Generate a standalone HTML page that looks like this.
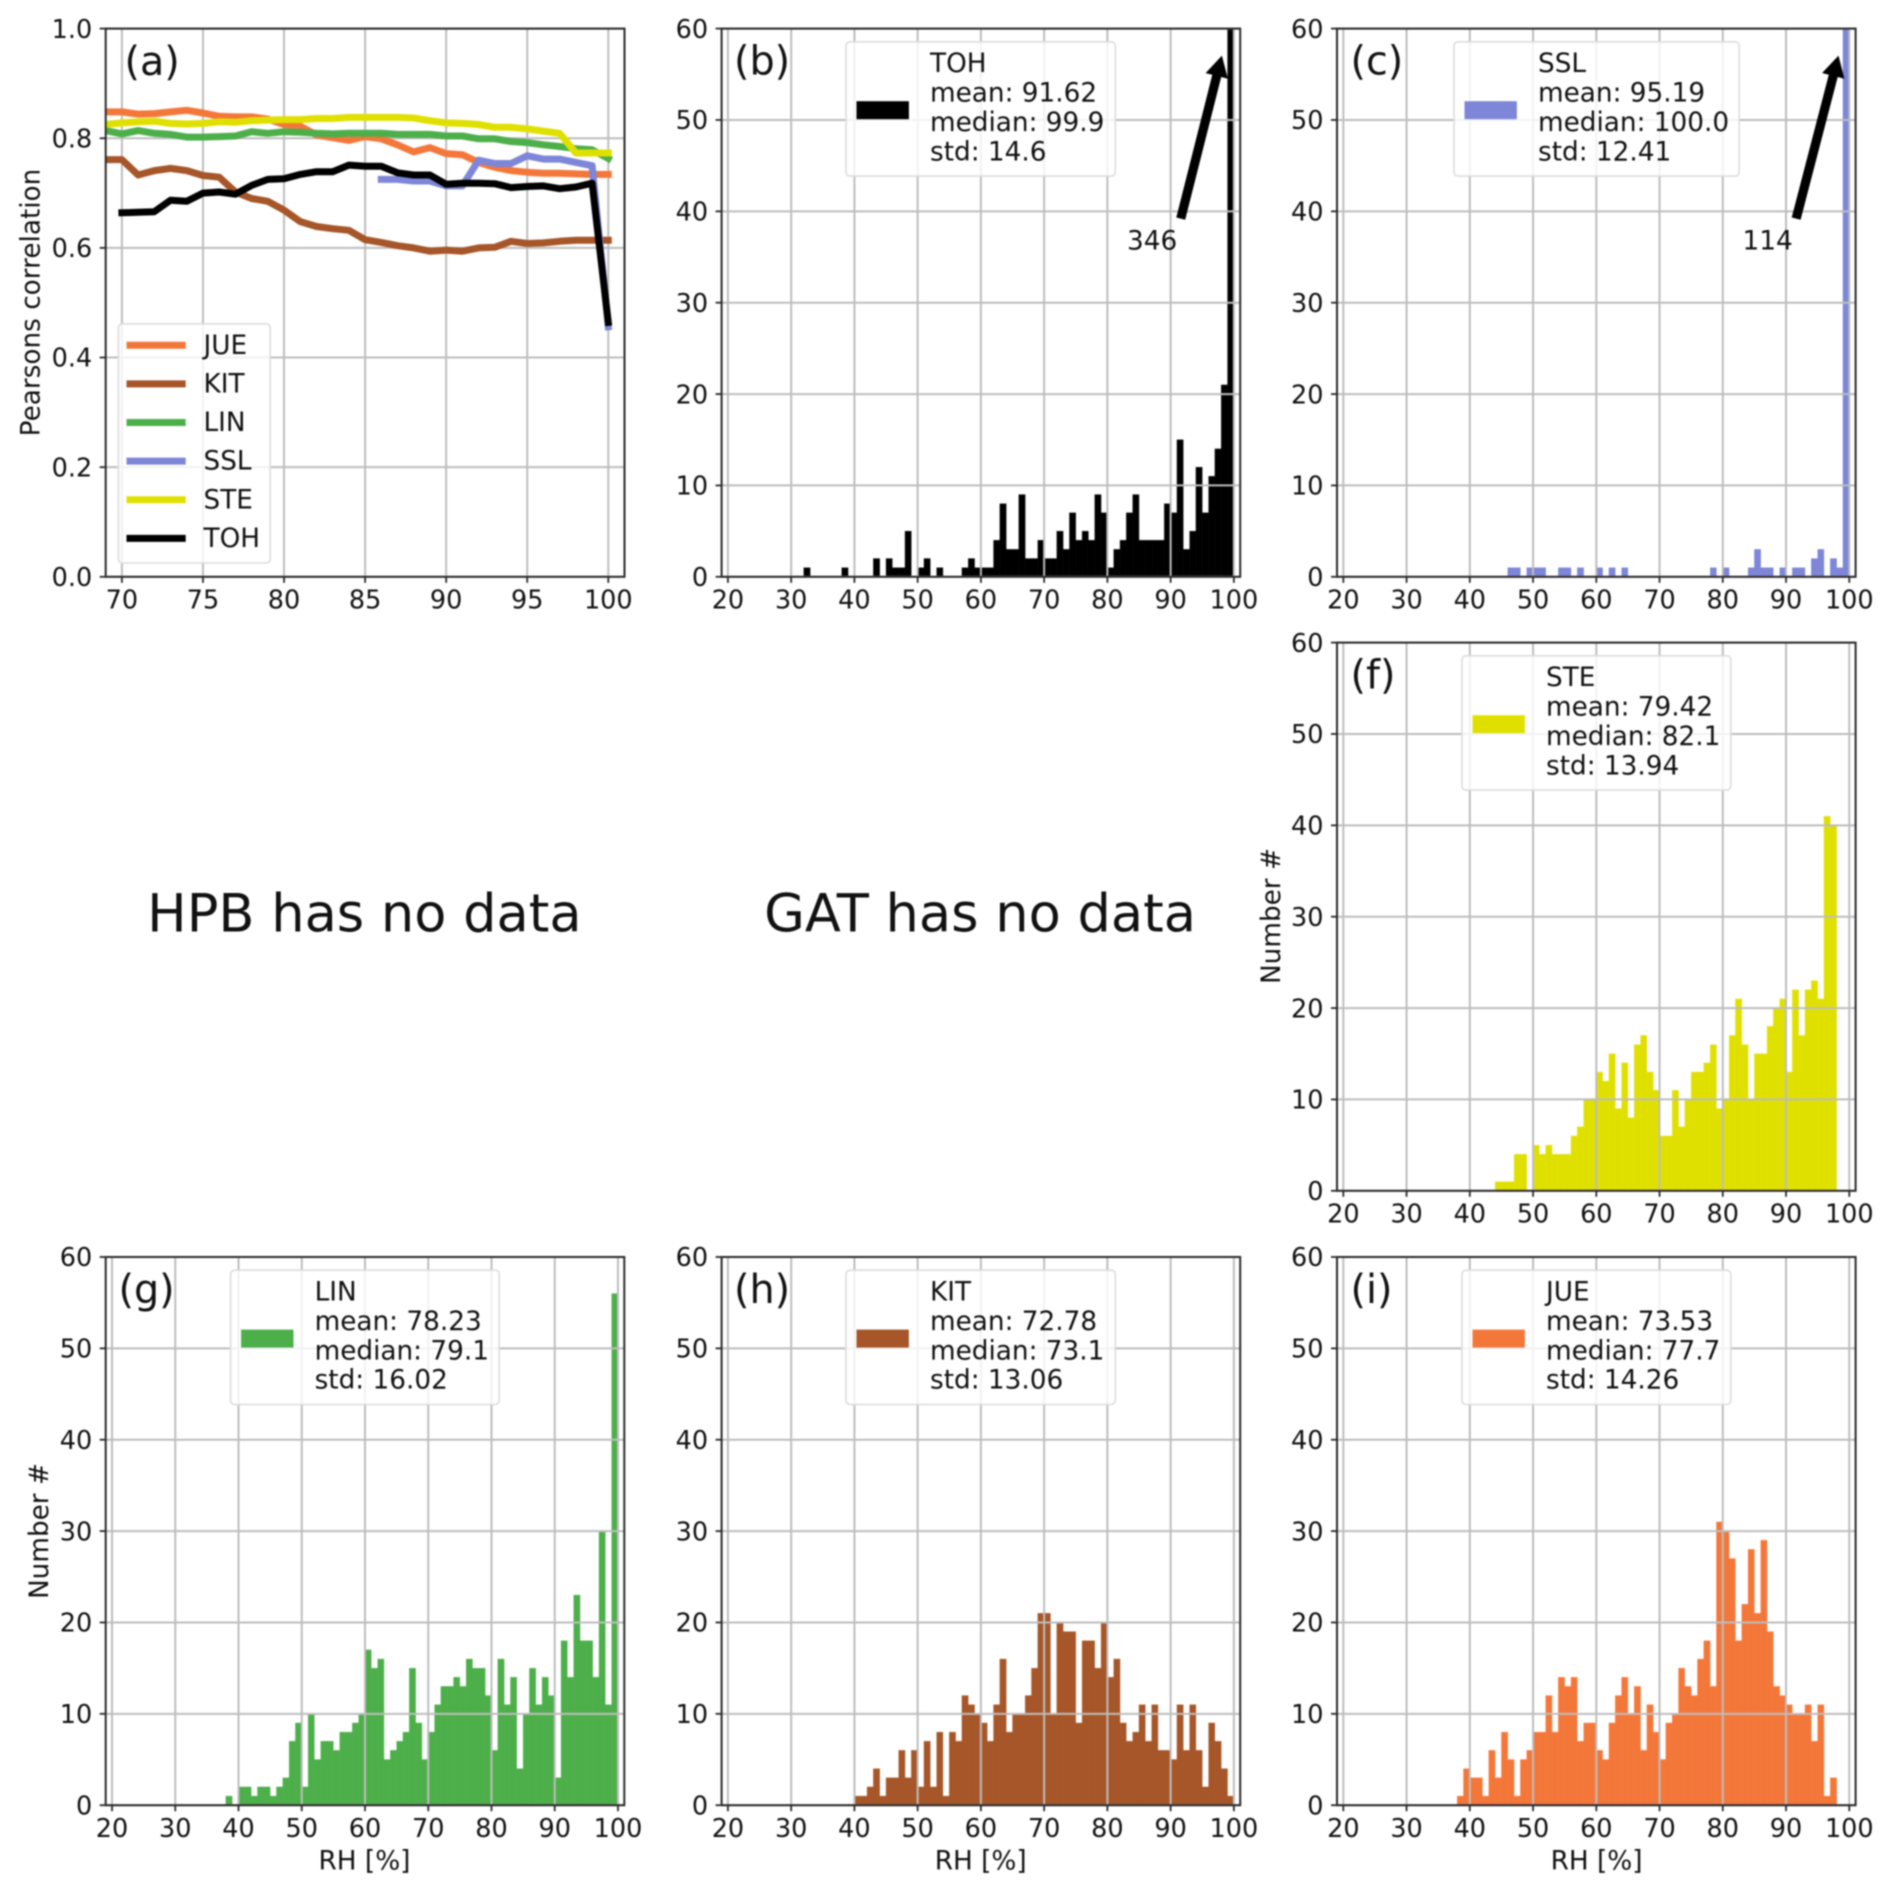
<!DOCTYPE html>
<html lang="en">
<head>
<meta charset="utf-8">
<title>RH histograms and Pearson correlation</title>
<style>
html,body{margin:0;padding:0;background:#fff;width:1892px;height:1892px;overflow:hidden}
svg{display:block;filter:blur(.7px)}
text{font-family:"DejaVu Sans","Liberation Sans",sans-serif;fill:#111}
</style>
</head>
<body>
<svg id="chart" xmlns="http://www.w3.org/2000/svg" width="1892" height="1892" viewBox="0 0 1892 1892"></svg>
<script>
/* ---------- shared bins and tick labels ---------- */
const rhBins = [20,21,22,23,24,25,26,27,28,29,30,31,32,33,34,35,36,37,38,39,40,41,42,43,44,45,46,47,48,49,50,51,52,53,54,55,56,57,58,59,60,61,62,63,64,65,66,67,68,69,70,71,72,73,74,75,76,77,78,79,80,81,82,83,84,85,86,87,88,89,90,91,92,93,94,95,96,97,98,99];
const histXTicks = [20,30,40,50,60,70,80,90,100];
const histYTicks = [0,10,20,30,40,50,60];
const corrXTicks = [70,75,80,85,90,95,100];
const corrYTicks = ["0.0","0.2","0.4","0.6","0.8","1.0"];

/* ---------- histogram counts per 1 % RH bin ---------- */
const tohCounts = [0,0,0,0,0,0,0,0,0,0, 0,0,1,0,0,0,0,0,1,0, 0,0,0,2,0,2,1,1,5,0, 1,2,0,1,0,0,0,1,2,1, 1,1,4,8,3,3,9,2,2,4, 2,2,5,3,7,4,5,4,9,7, 1,3,4,7,9,4,4,4,4,8, 7,15,3,5,12,7,11,14,21,346];
const sslCounts = [0,0,0,0,0,0,0,0,0,0, 0,0,0,0,0,0,0,0,0,0, 0,0,0,0,0,0,1,1,0,1, 1,1,0,0,1,1,0,1,0,0, 1,0,1,0,1,0,0,0,0,0, 0,0,0,0,0,0,0,0,1,0, 1,0,0,0,1,3,1,1,0,1, 0,1,1,0,2,3,0,2,1,114];
const steCounts = [0,0,0,0,0,0,0,0,0,0, 0,0,0,0,0,0,0,0,0,0, 0,0,0,0,1,1,1,4,4,0, 5,4,5,4,4,4,6,7,10,10, 13,12,15,9,14,8,16,17,13,11, 6,6,11,7,10,13,13,14,16,9, 10,17,21,16,10,15,15,18,20,21, 13,22,17,22,23,21,41,40,0,0];
const linCounts = [0,0,0,0,0,0,0,0,0,0, 0,0,0,0,0,0,0,0,1,0, 2,2,1,2,2,1,2,3,7,9, 2,10,5,7,7,6,8,8,9,10, 17,15,16,5,6,7,8,15,9,5, 8,11,13,13,14,13,16,15,15,12, 6,16,11,14,4,10,15,11,14,12, 3,18,14,23,18,18,14,30,11,56];
const kitCounts = [0,0,0,0,0,0,0,0,0,0, 0,0,0,0,0,0,0,0,0,0, 1,1,2,4,1,3,3,6,3,6, 2,7,2,8,1,8,7,12,11,10, 9,7,11,16,8,10,10,12,15,21, 21,10,20,19,19,9,18,18,15,20, 14,16,9,7,8,11,7,11,6,6, 5,11,6,11,6,2,9,7,4,1];
const jueCounts = [0,0,0,0,0,0,0,0,0,0, 0,0,0,0,0,0,0,0,1,4, 3,3,1,6,3,8,5,1,5,6, 8,8,12,8,14,13,14,7,9,9, 6,5,9,12,14,10,13,6,11,8, 5,9,10,15,13,12,16,18,13,31, 30,27,18,22,28,21,29,19,13,12, 11,10,10,11,7,11,1,3,0,0];

/* ---------- legend statistics ---------- */
const tohStats = ["TOH","mean: 91.62","median: 99.9","std: 14.6"];
const sslStats = ["SSL","mean: 95.19","median: 100.0","std: 12.41"];
const steStats = ["STE","mean: 79.42","median: 82.1","std: 13.94"];
const linStats = ["LIN","mean: 78.23","median: 79.1","std: 16.02"];
const kitStats = ["KIT","mean: 72.78","median: 73.1","std: 13.06"];
const jueStats = ["JUE","mean: 73.53","median: 77.7","std: 14.26"];

/* ---------- panel (a): Pearson correlation vs RH threshold ---------- */
const corrThresholds = [69,70,71,72,73,74,75,76,77,78,79,80,81,82,83,84,85,86,87,88,89,90,91,92,93,94,95,96,97,98,99,100];
const corrJUE = [.848,.848,.844,.845,.848,.851,.846,.840,.839,.839,.835,.825,.822,.806,.801,.796,.803,.799,.788,.775,.783,.772,.770,.756,.747,.741,.738,.736,.736,.735,.734,.734];
const corrKIT = [.761,.761,.733,.741,.745,.741,.732,.729,.702,.690,.685,.669,.648,.639,.635,.632,.615,.610,.604,.600,.594,.596,.594,.600,.601,.612,.608,.609,.612,.614,.614,.614];
const corrLIN = [.814,.808,.814,.809,.807,.802,.802,.803,.804,.812,.809,.812,.811,.809,.808,.809,.809,.809,.807,.807,.807,.804,.804,.799,.799,.794,.792,.788,.785,.781,.779,.763];
const corrSSL = [null,null,null,null,null,null,null,null,null,null,null,null,null,null,null,null,null,.725,.725,.722,.722,.713,.713,.760,.754,.754,.768,.762,.762,.756,.750,.456];
const corrSTE = [.825,.828,.830,.831,.827,.826,.827,.830,.829,.832,.833,.834,.834,.836,.836,.838,.838,.838,.838,.837,.832,.828,.827,.825,.820,.820,.817,.813,.809,.773,.773,.773];
const corrTOH = [null,.664,.665,.666,.687,.685,.700,.702,.698,.714,.725,.726,.734,.739,.739,.751,.749,.749,.737,.733,.733,.716,.718,.718,.717,.710,.712,.713,.708,.711,.718,.464];
const corrNames = ["JUE","KIT","LIN","SSL","STE","TOH"];

/* ---------- series colours ---------- */
const colJUE = "#f4773a";
const colKIT = "#a65628";
const colLIN = "#4daf4a";
const colSSL = "#7d86d8";
const colSTE = "#e0e000";
const colTOH = "#000000";

/* ---------- annotation values (data units) ---------- */
const tohPeakLabel = "346";
const sslPeakLabel = "114";

/* ---------- rendering ---------- */
const NS = "http://www.w3.org/2000/svg";
const root = document.getElementById("chart");
const TICK_FS = 25.5, LABEL_FS = 26.3, LEG_FS = 26.3, TAG_FS = 39.7;
const GRID = "#bdbdbd", SPINE = "#2a2a2a";

function mk(tag, attrs, parent) {
  const el = document.createElementNS(NS, tag);
  for (const k in attrs) el.setAttribute(k, attrs[k]);
  (parent || root).appendChild(el);
  return el;
}
function scaleX(frame, v) { return frame.left + (v - frame.xMin) / (frame.xMax - frame.xMin) * frame.w; }
function scaleY(frame, v) { return frame.top + frame.h - (v - frame.yMin) / (frame.yMax - frame.yMin) * frame.h; }

function drawClip(frame) {
  const defs = mk("defs", {});
  const cp = mk("clipPath", {id: "clip-" + frame.id}, defs);
  mk("rect", {x: frame.left, y: frame.top, width: frame.w, height: frame.h}, cp);
}
function drawGrid(frame, xTicks, yTicks) {
  const g = mk("g", {stroke: GRID, "stroke-width": 2});
  
  
  xTicks.forEach(function (t) {
    const x = scaleX(frame, +t);
    const l = mk("line", {x1: x, x2: x, y1: frame.top, y2: frame.top + frame.h}, g);
    
    
  });
  yTicks.forEach(function (t) {
    const y = scaleY(frame, +t);
    const l = mk("line", {x1: frame.left, x2: frame.left + frame.w, y1: y, y2: y}, g);
    
    
  });
}
function drawAxes(frame, xTicks, yTicks) {
  const g = mk("g", {});
  
  
  const box = mk("rect", {x: frame.left, y: frame.top, width: frame.w, height: frame.h, fill: "none", stroke: SPINE, "stroke-width": 2}, g);
  
  
  xTicks.forEach(function (t) {
    const x = scaleX(frame, +t), y0 = frame.top + frame.h;
    const tk = mk("line", {x1: x, x2: x, y1: y0, y2: y0 + 6, stroke: SPINE, "stroke-width": 1.8}, g);
    
    
    const tl = mk("text", {x: x, y: y0 + 31.7, "text-anchor": "middle", "font-size": TICK_FS}, g);
    tl.textContent = String(t);
    
    
  });
  yTicks.forEach(function (t) {
    const y = scaleY(frame, +t);
    const tk = mk("line", {x1: frame.left - 6, x2: frame.left, y1: y, y2: y, stroke: SPINE, "stroke-width": 1.8}, g);
    
    
    const tl = mk("text", {x: frame.left - 13.5, y: y + 9.2, "text-anchor": "end", "font-size": TICK_FS}, g);
    tl.textContent = String(t);
    
    
  });
}
function drawTag(x, y, label) {
  const t = mk("text", {x: x, y: y, "font-size": TAG_FS});
  t.textContent = label;
  
  
}
function drawYTitle(x, y, label) {
  const t = mk("text", {x: 0, y: 0, "font-size": LABEL_FS, "text-anchor": "middle", transform: "translate(" + x + "," + y + ") rotate(-90)"});
  t.textContent = label;
  
  
}
function drawXTitle(x, y, label) {
  const t = mk("text", {x: x, y: y, "font-size": LABEL_FS, "text-anchor": "middle"});
  t.textContent = label;
  
  
}
function drawArrow(frame, tailX, tailY, tipX, tipY) {
  const ax = scaleX(frame, tailX), ay = scaleY(frame, tailY), bx = scaleX(frame, tipX), by = scaleY(frame, tipY);
  const len = Math.hypot(bx - ax, by - ay), ux = (bx - ax) / len, uy = (by - ay) / len, nx = -uy, ny = ux;
  const tw = 4.6, hw = 11.5, hl = 21;
  const cx = bx - ux * hl, cy = by - uy * hl;
  const pts = [[ax + nx * tw, ay + ny * tw], [cx + nx * tw, cy + ny * tw], [cx + nx * hw, cy + ny * hw], [bx, by], [cx - nx * hw, cy - ny * hw], [cx - nx * tw, cy - ny * tw], [ax - nx * tw, ay - ny * tw]];
  const p = mk("polygon", {points: pts.map(function (q) { return q[0].toFixed(1) + "," + q[1].toFixed(1); }).join(" "), fill: "#000"});
  
  
}

function drawHistogram(frame, counts, colour, stats) {
  drawClip(frame);
  const bg = mk("g", {fill: colour, stroke: colour, "stroke-width": .3, "clip-path": "url(#clip-" + frame.id + ")"});
  
  
  counts.forEach(function (c, i) {
    if (!c) return;
    const x0 = scaleX(frame, rhBins[i]), x1 = scaleX(frame, rhBins[i] + 1), y = scaleY(frame, c), yb = scaleY(frame, 0);
    const r = mk("rect", {x: x0, y: y, width: x1 - x0, height: yb - y}, bg);
    
    
  });
  drawGrid(frame, histXTicks, histYTicks);
  drawAxes(frame, histXTicks, histYTicks);

  const lg = mk("g", {});
  
  
  const box = mk("rect", {x: frame.legLeft, y: frame.top + 13.2, width: frame.legW, height: 134.3, rx: 4, ry: 4, fill: "#fff", "fill-opacity": .8, stroke: "#dcdcdc", "stroke-width": 1.6}, lg);
  
  
  const sw = mk("rect", {x: frame.legLeft + 10.5, y: frame.top + 72.6, width: 52.4, height: 18, fill: colour}, lg);
  
  
  stats.forEach(function (s, i) {
    const t = mk("text", {x: frame.legLeft + 84, y: frame.top + 43.5 + i * 29.4, "font-size": LEG_FS}, lg);
    t.textContent = s;
    
    
  });
}
function histFrame(id, left, top, legLeft, legW) {
  return {id: id, left: left, top: top, w: 518.6, h: 548.2, xMin: 19, xMax: 101, yMin: 0, yMax: 60, legLeft: legLeft, legW: legW};
}

/* panel (a) */
const corrFrame = {id: "panel-a", left: 105.7, top: 28.6, w: 518.8, h: 548.2, xMin: 69, xMax: 101, yMin: 0, yMax: 1};
const corrSeries = [corrJUE, corrKIT, corrLIN, corrSSL, corrSTE, corrTOH];
const corrColours = [colJUE, colKIT, colLIN, colSSL, colSTE, colTOH];
drawClip(corrFrame);
drawGrid(corrFrame, corrXTicks, corrYTicks);
corrSeries.forEach(function (vals, si) {
  const pts = [];
  vals.forEach(function (v, i) {
    if (v !== null) pts.push(scaleX(corrFrame, corrThresholds[i]).toFixed(1) + "," + scaleY(corrFrame, v).toFixed(1));
  });
  const g = mk("g", {"clip-path": "url(#clip-panel-a)"});
  
  
  const l = mk("polyline", {points: pts.join(" "), fill: "none", stroke: corrColours[si], "stroke-width": 7, "stroke-linecap": "square", "stroke-linejoin": "round"}, g);
  
  
});
drawAxes(corrFrame, corrXTicks, corrYTicks);
const corrLegend = mk("g", {});


const corrLegendBox = mk("rect", {x: 118.4, y: 323.8, width: 151.8, height: 239.2, rx: 4, ry: 4, fill: "#fff", "fill-opacity": .8, stroke: "#dcdcdc", "stroke-width": 1.6}, corrLegend);


corrNames.forEach(function (name, i) {
  const y = 345.2 + i * 38.64;
  const l = mk("line", {x1: 126.5, x2: 185.7, y1: y, y2: y, stroke: corrColours[i], "stroke-width": 7}, corrLegend);
  
  
  const t = mk("text", {x: 203.5, y: y + 8.6, "font-size": LEG_FS}, corrLegend);
  t.textContent = name;
  
  
});
drawTag(124.5, 75, "(a)");
drawYTitle(39.5, 302.5, "Pearsons correlation");

/* panel (b) */
const frameB = histFrame("panel-b", 721.6, 28.6, 846, 269.3);
drawHistogram(frameB, tohCounts, colTOH, tohStats);
drawArrow(frameB, 91.6, 39.2, 98.1, 57.05);
const labelB = mk("text", {x: 1127, y: 249.4, "font-size": LEG_FS});
labelB.textContent = tohPeakLabel;


drawTag(734, 74.6, "(b)");

/* panel (c) */
const frameC = histFrame("panel-c", 1337, 28.6, 1454, 285.2);
drawHistogram(frameC, sslCounts, colSSL, sslStats);
drawArrow(frameC, 91.6, 39.2, 98.3, 57.05);
const labelC = mk("text", {x: 1742.5, y: 249.4, "font-size": LEG_FS});
labelC.textContent = sslPeakLabel;


drawTag(1350.5, 74.6, "(c)");

/* empty panels */
const noHPB = mk("text", {x: 364.4, y: 931.5, "font-size": 52.6, "text-anchor": "middle"});
noHPB.textContent = "HPB has no data";


const noGAT = mk("text", {x: 980, y: 931.5, "font-size": 52.6, "text-anchor": "middle"});
noGAT.textContent = "GAT has no data";



/* panel (f) */
const frameF = histFrame("panel-f", 1337, 642.6, 1462, 268.8);
drawHistogram(frameF, steCounts, colSTE, steStats);
drawTag(1350.5, 688.6, "(f)");
drawYTitle(1280, 916, "Number #");

/* panel (g) */
const frameG = histFrame("panel-g", 105.7, 1257, 230.6, 268.6);
drawHistogram(frameG, linCounts, colLIN, linStats);
drawTag(118.5, 1303, "(g)");
drawYTitle(48, 1531, "Number #");
drawXTitle(364.5, 1869.5, "RH [%]");

/* panel (h) */
const frameH = histFrame("panel-h", 721.6, 1257, 846, 269.3);
drawHistogram(frameH, kitCounts, colKIT, kitStats);
drawTag(734, 1303, "(h)");
drawXTitle(980.7, 1869.5, "RH [%]");

/* panel (i) */
const frameI = histFrame("panel-i", 1337, 1257, 1462, 268.8);
drawHistogram(frameI, jueCounts, colJUE, jueStats);
drawTag(1350.5, 1303, "(i)");
drawXTitle(1596.6, 1869.5, "RH [%]");
</script>
</body>
</html>
